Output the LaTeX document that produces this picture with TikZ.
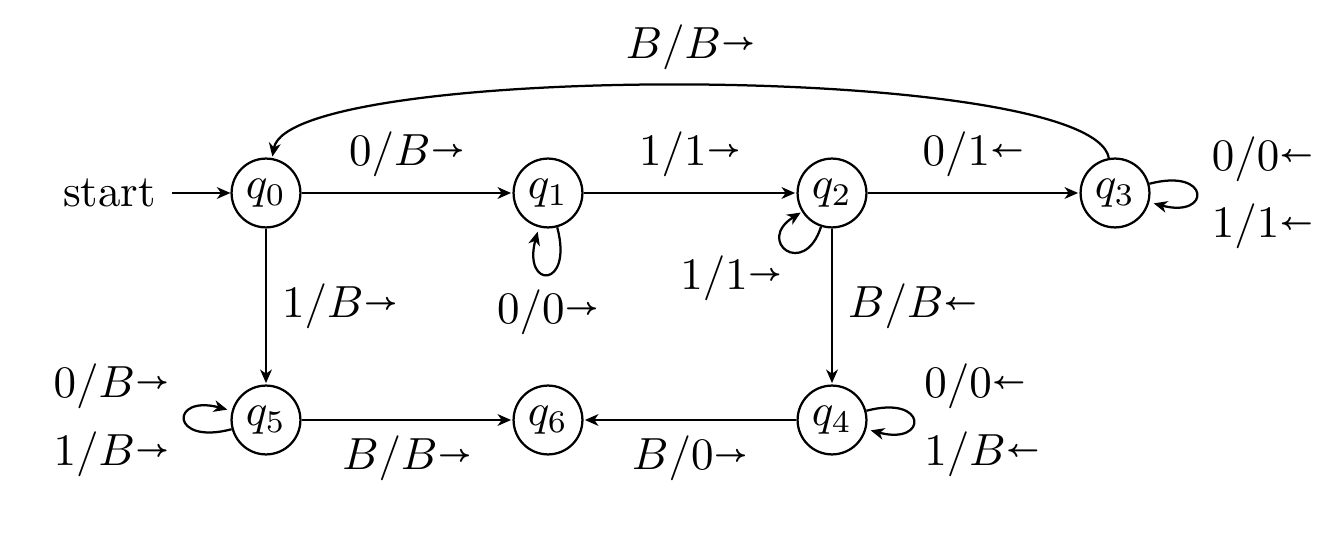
\documentclass[tikz,border=0pt]{standalone}
\usepackage{amsmath}
\usetikzlibrary{automata,arrows.meta,positioning}

\newcommand{\rmove}{\mathord{\raisebox{0.45ex}{$\scriptscriptstyle\boldsymbol{\rightarrow}$}}}
\newcommand{\lmove}{\mathord{\raisebox{0.45ex}{$\scriptscriptstyle\boldsymbol{\leftarrow}$}}}

\begin{document}
\begin{tikzpicture}[x=0.2222pt, y=-0.2222pt, line width=0.5pt,
    >={Stealth[length=3pt,width=2.6pt,inset=0.9pt]},
    st/.style={circle, draw, minimum size=15.3pt, inner sep=0pt},
    trans/.style={->, shorten >=0.3pt}]

\useasboundingbox (0,0) rectangle (1331,535);

% States
\node[st, initial, initial text=start] (q0) at (266,193) {$q_0$};
\node[st] (q1) at (548,193) {$q_1$};
\node[st] (q2) at (832,193) {$q_2$};
\node[st] (q3) at (1115,193) {$q_3$};
\node[st] (q5) at (266,420) {$q_5$};
\node[st] (q6) at (548,420) {$q_6$};
\node[st] (q4) at (832,420) {$q_4$};

% Transitions
\path[trans]
  (q0) edge node[above] {$0/B\rmove$} (q1)
  (q1) edge node[above] {$1/1\rmove$} (q2)
  (q2) edge node[above] {$0/1\lmove$} (q3)
  (q3) edge[out=100, in=80, looseness=0.3] node[above] {$B/B\rmove$} (q0)
  (q0) edge node[right] {$1/B\rmove$} (q5)
  (q2) edge node[right] {$B/B\lmove$} (q4)
  (q5) edge node[below] {$B/B\rmove$} (q6)
  (q4) edge node[below] {$B/0\rmove$} (q6)
  (q1) edge[loop below] node {$0/0\rmove$} (q1)
  (q2) edge[out=252, in=212, loop, min distance=4.3mm] node[below left, inner sep=1pt] {$1/1\rmove$} (q2)
  (q3) edge[loop right] node[align=left] {$0/0\lmove$\\[3pt]$1/1\lmove$} (q3)
  (q4) edge[loop right] node[align=left, xshift=-1pt] {$0/0\lmove$\\[3pt]$1/B\lmove$} (q4)
  (q5) edge[loop left] node[align=right] {$0/B\rmove$\\[3pt]$1/B\rmove$} (q5);
\end{tikzpicture}
\end{document}
